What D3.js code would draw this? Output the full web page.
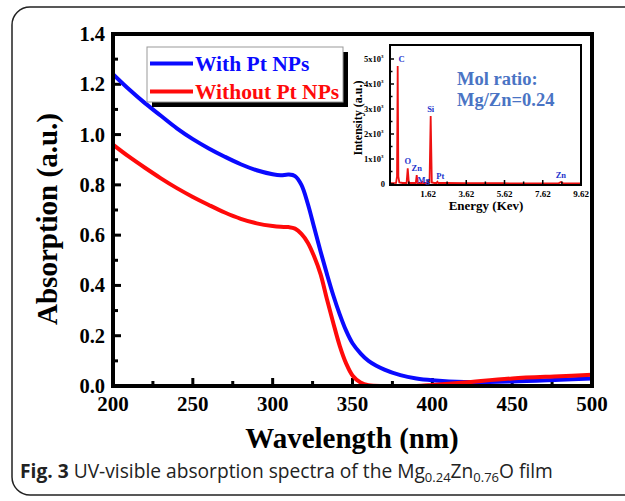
<!DOCTYPE html>
<html><head><meta charset="utf-8">
<script src="https://cdn.jsdelivr.net/npm/d3@7"></script>
<style>html,body{margin:0;padding:0;background:#fff;}svg{display:block;}</style>
</head><body>
<script>
// ---- Data ----
const wavelengths = [200,210,220,230,240,250,260,270,280,290,300,305,310,314,318,322,326,330,334,338,342,346,350,355,360,370,380,390,400,420,450,480,500];
const withPt      = [1.24,1.18,1.125,1.075,1.025,0.982,0.945,0.912,0.882,0.858,0.842,0.838,0.841,0.835,0.80,0.725,0.63,0.535,0.445,0.36,0.285,0.22,0.17,0.13,0.10,0.065,0.043,0.030,0.023,0.016,0.018,0.025,0.030];
const withoutPt   = [0.96,0.912,0.868,0.826,0.787,0.752,0.72,0.69,0.665,0.647,0.636,0.633,0.632,0.626,0.605,0.57,0.515,0.445,0.345,0.25,0.16,0.09,0.042,0.014,0.003,0.0,0.0,0.0,0.004,0.014,0.03,0.039,0.045];
const seriesNames = ["With Pt NPs","Without Pt NPs"];
const seriesColors = ["#0a0aff","#ff0a0a"];
const xTicks = [200,250,300,350,400,450,500];
const yTicks = [0.0,0.2,0.4,0.6,0.8,1.0,1.2,1.4];

// EDS inset
const edsEnergy = [-0.37,-0.05,0.0,0.035,0.07,0.12,0.3,0.50,0.56,0.62,0.8,0.98,1.03,1.08,1.25,1.30,1.34,1.38,1.5,1.70,1.76,1.82,1.95,2.06,2.11,2.16,2.5,3.5,4.5,5.5,6.5,7.5,8.45,8.57,8.69,9.0,9.62];
const edsCounts = [30,40,300,4720,300,60,40,40,630,40,40,40,360,40,40,40,80,40,40,60,2720,60,40,40,90,40,40,30,30,30,25,25,25,80,25,25,25];
const edsPeaks = [
  {label:"C", e:0.035, c:4720, dx:4, dy:-4},
  {label:"O", e:0.56, c:630, dx:0, dy:-4},
  {label:"Zn", e:1.03, c:360, dx:0, dy:-4},
  {label:"Mg", e:1.34, c:80, dx:1, dy:1},
  {label:"Si", e:1.76, c:2720, dx:0, dy:-4},
  {label:"Pt", e:2.11, c:90, dx:3, dy:-3},
  {label:"Zn", e:8.57, c:80, dx:0, dy:-4}
];
const edsXTicks = [1.62,3.62,5.62,7.62,9.62];
const edsYTicks = [0,1000,2000,3000,4000,5000];

// ---- Layout ----
const W = 625, H = 501;
const svg = d3.select("body").append("svg").attr("width",W).attr("height",H);
svg.append("rect").attr("width",W).attr("height",H).attr("fill","#fff");

// outer rounded frame
svg.append("rect").attr("x",12).attr("y",7).attr("width",720).attr("height",488)
  .attr("rx",18).attr("fill","none").attr("stroke","#222").attr("stroke-width",1.5);

const serif = "'Liberation Serif','Times New Roman',serif";
const x = d3.scaleLinear().domain([200,500]).range([113,592]);
const y = d3.scaleLinear().domain([0,1.4]).range([386,34]);

const plot = svg.append("g");
// minor + major ticks (inward)
const xMinor = d3.range(200,501,25);
const yMinor = d3.range(0,1.401,0.1);
plot.selectAll(".xt").data(xMinor).enter().append("line")
  .attr("x1",d=>x(d)).attr("x2",d=>x(d))
  .attr("y1",386).attr("y2",d=>386-(d%50===0?8:5))
  .attr("stroke","#000").attr("stroke-width",3);
plot.selectAll(".yt").data(yMinor).enter().append("line")
  .attr("y1",d=>y(d)).attr("y2",d=>y(d))
  .attr("x1",113).attr("x2",(d,i)=>113+(i%2===0?8:5))
  .attr("stroke","#000").attr("stroke-width",3);

// curves
const clipId = "clipMain";
svg.append("clipPath").attr("id",clipId).append("rect").attr("x",113).attr("y",34).attr("width",479).attr("height",352);
const line = d3.line().x(d=>x(d[0])).y(d=>y(Math.max(0,d[1]))).curve(d3.curveCatmullRom.alpha(0.5));
const sets = [withPt, withoutPt];
sets.forEach((vals,i)=>{
  plot.append("path").datum(wavelengths.map((w,j)=>[w,vals[j]]))
    .attr("d",line).attr("fill","none").attr("stroke",seriesColors[i])
    .attr("stroke-width",4).attr("stroke-linejoin","round").attr("clip-path",`url(#${clipId})`);
});

// frame
plot.append("rect").attr("x",113).attr("y",34).attr("width",479).attr("height",352)
  .attr("fill","none").attr("stroke","#000").attr("stroke-width",4);

// tick labels
plot.selectAll(".xl").data(xTicks).enter().append("text")
  .attr("x",d=>x(d)).attr("y",411).attr("text-anchor","middle")
  .attr("font-family",serif).attr("font-weight","bold").attr("font-size",21)
  .text(d=>d);
plot.selectAll(".yl").data(yTicks).enter().append("text")
  .attr("x",105).attr("y",d=>y(d)+7).attr("text-anchor","end")
  .attr("font-family",serif).attr("font-weight","bold").attr("font-size",20.5)
  .text(d=>d.toFixed(1));

// axis titles
svg.append("text").attr("x",352).attr("y",448).attr("text-anchor","middle")
  .attr("font-family",serif).attr("font-weight","bold").attr("font-size",29)
  .text("Wavelength (nm)");
svg.append("text").attr("transform","translate(57,219) rotate(-90)").attr("text-anchor","middle")
  .attr("font-family",serif).attr("font-weight","bold").attr("font-size",29)
  .text("Absorption (a.u.)");

// legend
const lg = svg.append("g");
lg.append("rect").attr("x",152).attr("y",52).attr("width",196).attr("height",55).attr("fill","#000");
lg.append("rect").attr("x",147).attr("y",47).attr("width",196).attr("height",55).attr("fill","#fff")
  .attr("stroke","#999").attr("stroke-width",1);
seriesNames.forEach((n,i)=>{
  const yy = 63.5 + i*28;
  lg.append("line").attr("x1",150).attr("x2",193).attr("y1",yy).attr("y2",yy)
    .attr("stroke",seriesColors[i]).attr("stroke-width",4);
  lg.append("text").attr("x",195).attr("y",yy+7).attr("font-family",serif).attr("font-weight","bold")
    .attr("font-size",21.5).attr("fill",seriesColors[i]).text(n);
});

// ---- Inset ----
const ix = d3.scaleLinear().domain([-0.367,9.62]).range([390,581]);
const iy = d3.scaleLinear().domain([0,5000]).range([184,59]);
const ins = svg.append("g");
ins.append("rect").attr("x",390).attr("y",45).attr("width",191).attr("height",140).attr("fill","#fff");
const edsLine = d3.line().x(d=>ix(d[0])).y(d=>iy(d[1]));
ins.append("path").datum(edsEnergy.map((e,i)=>[e,edsCounts[i]]))
  .attr("d",edsLine).attr("fill","none").attr("stroke","#ee1111").attr("stroke-width",1.8);
// ticks
const exMinor = d3.range(0.62,9.63,1);
ins.selectAll(".ext").data(exMinor).enter().append("line")
  .attr("x1",d=>ix(d)).attr("x2",d=>ix(d)).attr("y1",184)
  .attr("y2",(d,i)=>184-(i%2===1?4:2.5)).attr("stroke","#000").attr("stroke-width",1.5);
const eyMinor = d3.range(0,5001,500);
ins.selectAll(".eyt").data(eyMinor).enter().append("line")
  .attr("y1",d=>iy(d)).attr("y2",d=>iy(d)).attr("x1",390)
  .attr("x2",(d,i)=>390+(i%2===0?4:2.5)).attr("stroke","#000").attr("stroke-width",1.5);
ins.append("rect").attr("x",390).attr("y",45).attr("width",191).attr("height",140)
  .attr("fill","none").attr("stroke","#000").attr("stroke-width",2);
ins.selectAll(".exl").data(edsXTicks).enter().append("text")
  .attr("x",d=>ix(d)).attr("y",197).attr("text-anchor","middle")
  .attr("font-family",serif).attr("font-weight","bold").attr("font-size",9).text(d=>d.toFixed(2));
edsYTicks.forEach((v,i)=>{
  const t = ins.append("text").attr("x",i===0?385:381).attr("y",iy(v)+3).attr("text-anchor","end")
    .attr("font-family",serif).attr("font-weight","bold").attr("font-size",8.5);
  if(i===0){ t.text("0"); }
  else {
    t.text(`${v/1000}x10`);
    ins.append("text").attr("x",381).attr("y",iy(v)-1).attr("font-family",serif)
      .attr("font-weight","bold").attr("font-size",5).text("3");
  }
});
ins.append("text").attr("x",486).attr("y",210).attr("text-anchor","middle")
  .attr("font-family",serif).attr("font-weight","bold").attr("font-size",13).text("Energy (Kev)");
ins.append("text").attr("transform","translate(362,118) rotate(-90)").attr("text-anchor","middle")
  .attr("font-family",serif).attr("font-weight","bold").attr("font-size",12).text("Intensity (a.u.)");
ins.selectAll(".pk").data(edsPeaks).enter().append("text")
  .attr("x",d=>ix(d.e)+d.dx).attr("y",d=>iy(d.c)+d.dy).attr("text-anchor","middle")
  .attr("font-family",serif).attr("font-weight","bold").attr("font-size",8.5).attr("fill","#2233cc")
  .text(d=>d.label);
ins.append("text").attr("x",457).attr("y",85).attr("font-family",serif).attr("font-weight","bold")
  .attr("font-size",18.5).attr("fill","#4a74c4").text("Mol ratio:");
ins.append("text").attr("x",457).attr("y",106).attr("font-family",serif).attr("font-weight","bold")
  .attr("font-size",18.5).attr("fill","#4a74c4").text("Mg/Zn=0.24");

// ---- Caption ----
const sans = "'Open Sans','Noto Sans',sans-serif";
const cap = svg.append("text").attr("x",20).attr("y",478).attr("font-family",sans).attr("font-size",19.2).attr("fill","#222");
cap.append("tspan").attr("font-weight","bold").text("Fig. 3");
cap.append("tspan").text(" UV-visible absorption spectra of the Mg");
cap.append("tspan").attr("font-size",13).attr("dy",4).text("0.24");
cap.append("tspan").attr("dy",-4).text("Zn");
cap.append("tspan").attr("font-size",13).attr("dy",4).text("0.76");
cap.append("tspan").attr("dy",-4).text("O film");
</script>
</body></html>
